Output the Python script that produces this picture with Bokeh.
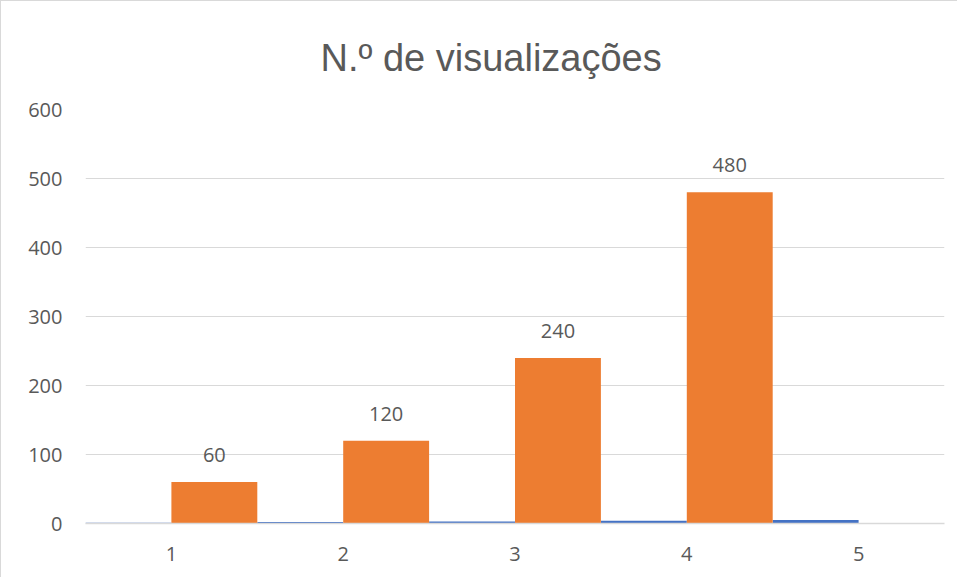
from bokeh.plotting import figure
from bokeh.models import ColumnDataSource, FactorRange, LabelSet, FixedTicker
from bokeh.transform import dodge
from bokeh.core.properties import value
from bokeh.embed import file_html
from bokeh.resources import INLINE

categories = ["1", "2", "3", "4", "5"]
serie_dia = [1, 2, 3, 4, 5]
serie_visualizacoes = [60, 120, 240, 480, 0]
y_ticks = [0, 100, 200, 300, 400, 500, 600]

BLUE = "#4472C4"
ORANGE = "#ED7D31"
GRID = "#D9D9D9"
TEXT = "#595959"

src = ColumnDataSource(dict(cat=categories, dia=serie_dia, vis=serie_visualizacoes))
lab_cats = [c for c, v in zip(categories, serie_visualizacoes) if v > 0]
lab_vals = [v for v in serie_visualizacoes if v > 0]
lab_src = ColumnDataSource(dict(cat=lab_cats, vis=lab_vals, txt=[str(v) for v in lab_vals]))

p = figure(x_range=FactorRange(*categories, range_padding=0), y_range=(0, 600),
           width=957, height=577, output_backend="svg", toolbar_location=None,
           min_border_left=84, min_border_right=14, min_border_top=108, min_border_bottom=55)

p.vbar(x=dodge("cat", -0.25, range=p.x_range), top="dia", width=0.5, source=src,
       fill_color=BLUE, line_color=None)
p.vbar(x=dodge("cat", 0.25, range=p.x_range), top="vis", width=0.5, source=src,
       fill_color=ORANGE, line_color=None)

labels = LabelSet(x=dodge("cat", 0.25, range=p.x_range), y="vis", text="txt", source=lab_src,
                  text_align="center", text_baseline="alphabetic", y_offset=20,
                  text_font=value("Open Sans"), text_font_size="20px", text_color=TEXT)
p.add_layout(labels)

p.title.text = "N.º de visualizações"
p.title.align = "left"
p.title.offset = 235
p.title.text_font = "Liberation Sans"
p.title.text_font_size = "38px"
p.title.text_font_style = "normal"
p.title.text_color = TEXT
p.title.standoff = 61

p.outline_line_color = None
p.background_fill_color = "white"
p.border_fill_color = "white"
p.styles = {"border-left": "1px solid #D9D9D9", "border-top": "1px solid #D9D9D9"}

p.xgrid.grid_line_color = None
p.ygrid.grid_line_color = GRID
p.ygrid.grid_line_width = 1
p.yaxis.ticker = FixedTicker(ticks=y_ticks)

for ax in (p.xaxis[0], p.yaxis[0]):
    ax.major_tick_line_color = None
    ax.minor_tick_line_color = None
    ax.major_label_text_font = "Open Sans"
    ax.major_label_text_font_size = "20px"
    ax.major_label_text_color = TEXT
    ax.major_label_standoff = 17

p.yaxis.axis_line_color = None
p.xaxis.axis_line_color = GRID
p.xaxis.axis_line_width = 1.5

open("out.html", "w").write(file_html(p, INLINE))
